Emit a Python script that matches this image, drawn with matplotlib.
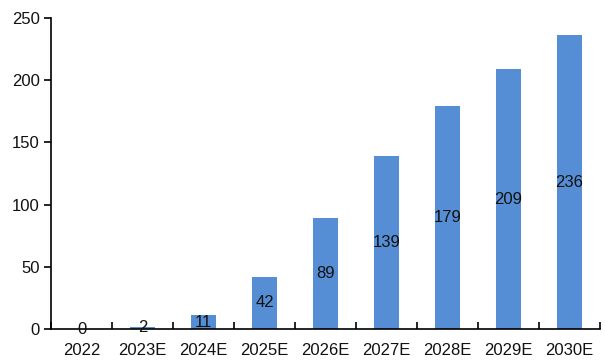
import matplotlib
matplotlib.use("Agg")
import matplotlib.pyplot as plt
import numpy as np

plt.rcParams['font.family'] = ['Liberation Sans', 'DejaVu Sans']

years = ["2022", "2023E", "2024E", "2025E", "2026E", "2027E", "2028E", "2029E", "2030E"]
values = [0, 2, 11, 42, 89, 139, 179, 209, 236]

fig = plt.figure(figsize=(6.05, 3.61), dpi=100)
ax = fig.add_axes([51/605, 32/361, 549/605, 311/361])

x = np.arange(len(years))
bars = ax.bar(x, values, width=0.4, color="#558ED5", zorder=2)

for xi, v in zip(x, values):
    ax.text(xi, v / 2, str(v), ha="center", va="center", fontsize=12, color="#111111", zorder=3)

ax.set_xlim(-0.5, len(years) - 0.5)
ax.set_ylim(0, 250)
ax.set_yticks(np.arange(0, 251, 50))
ax.set_xticks(x)
ax.set_xticklabels(years)
ax.set_xticks(np.arange(-0.5, len(years), 1), minor=True)

for s in ["top", "right"]:
    ax.spines[s].set_visible(False)
ax.spines["left"].set_linewidth(1.2)
ax.spines["bottom"].set_linewidth(1.2)

ax.tick_params(axis="y", direction="out", length=5, width=1.2, labelsize=12, pad=3, labelcolor="#111111")
ax.tick_params(axis="x", which="major", length=0, labelsize=12, pad=10, labelcolor="#111111")
ax.tick_params(axis="x", which="minor", direction="in", length=5, width=1.2)

fig.savefig("out.png", dpi=100)
